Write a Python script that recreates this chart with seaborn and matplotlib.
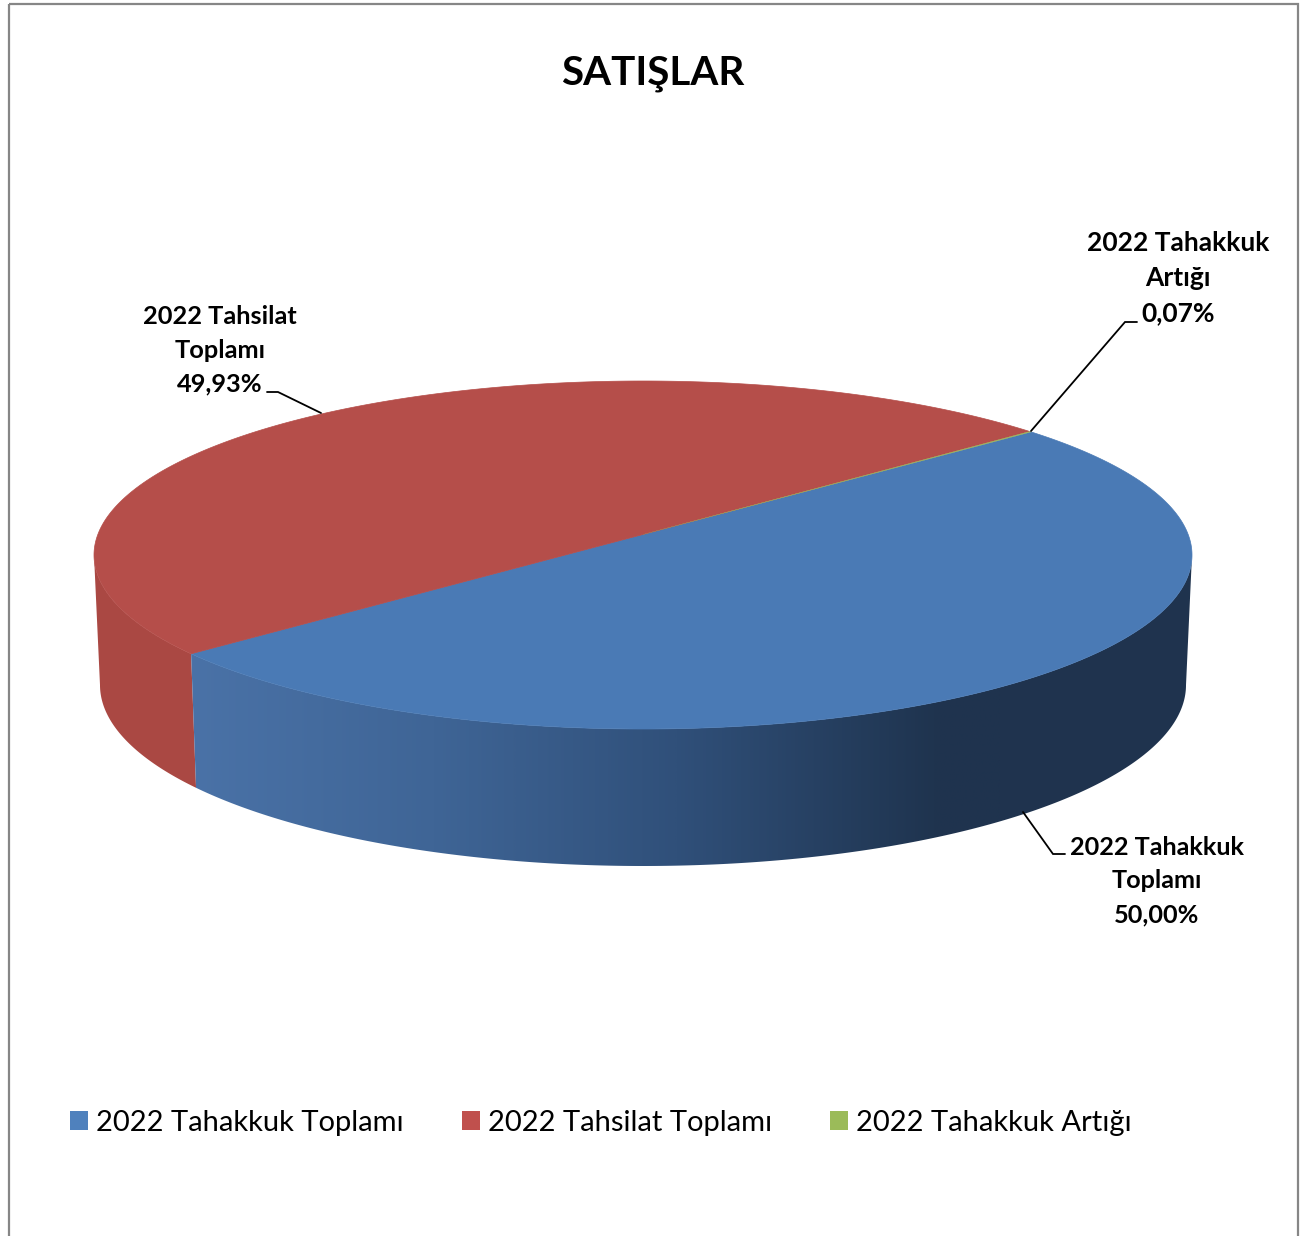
import numpy as np
import matplotlib
matplotlib.use("Agg")
import matplotlib.pyplot as plt
from matplotlib.patches import Polygon, Patch, Rectangle
from matplotlib.colors import LinearSegmentedColormap
import seaborn as sns

title = "SATIŞLAR"
categories = ["2022 Tahakkuk Toplamı", "2022 Tahsilat Toplamı", "2022 Tahakkuk Artığı"]
label_lines = ["2022 Tahakkuk\nToplamı", "2022 Tahsilat\nToplamı", "2022 Tahakkuk\nArtığı"]
shares = [50.00, 49.93, 0.07]
top_colors = ["#4A7AB5", "#B54E4A", "#9BBB59"]
legend_colors = ["#4F81BD", "#C0504D", "#9BBB59"]

sns.set_theme(style="white")
plt.rcParams["font.family"] = ["Lato", "DejaVu Sans"]

fig = plt.figure(figsize=(13.11, 12.36), dpi=100, facecolor="white")
ax = fig.add_axes([0, 0, 1, 1])
ax.set_xlim(0, 1311)
ax.set_ylim(1236, 0)
ax.axis("off")

# chart frame
ax.add_patch(Rectangle((8.5, 3.5), 1289.5, 1300, fill=False, ec="#868686", lw=1.6, clip_on=True))

# projected disc geometry
START = 40.0
K = 0.118
TOP = dict(cx=643, cy=555, rx=549, ry=174)
BOT = dict(cx=643, cy=685, rx=543, ry=181)


def project(theta_deg, g):
    th = np.radians(theta_deg)
    x, y = np.cos(th), np.sin(th)
    d = 1 + K * y
    u = x * np.sqrt(1 - K ** 2) / d
    v = (y + K) / d
    return g["cx"] + g["rx"] * u, g["cy"] - g["ry"] * v


edges = START - np.cumsum([0] + shares) / sum(shares) * 360
tangent = np.degrees(np.arcsin(K))


def wall(a, b):
    th = np.linspace(a, b, 300)
    xt, yt = project(th, TOP)
    xb, yb = project(th[::-1], BOT)
    return np.column_stack([np.r_[xt, xb], np.r_[yt, yb]])


# walls: red (left of the seam) and blue (front, gradient)
seam = edges[1] + 360
red_wall = Polygon(wall(180 + tangent, seam), fc="#AA4843", ec="none")
ax.add_patch(red_wall)

blue_wall = Polygon(wall(seam, 360 - tangent), fc="none", ec="none")
ax.add_patch(blue_wall)
cmap = LinearSegmentedColormap.from_list(
    "w", [(0, "#4A72A7"), (0.3, "#3F6596"), (0.6, "#30507A"), (0.92, "#1F344F"), (1, "#1F334E")])
grad = ax.imshow(np.linspace(0, 1, 512)[None, :], cmap=cmap, extent=(191, 1000, 900, 600), aspect="auto",
                 interpolation="bilinear", zorder=1)
grad.set_clip_path(blue_wall)
dark = ax.imshow(np.ones((1, 2)), cmap=cmap, vmin=0, vmax=1, extent=(1000, 1200, 900, 500), aspect="auto", zorder=1)
dark.set_clip_path(blue_wall)
ax.set_xlim(0, 1311)
ax.set_ylim(1236, 0)

# top face wedges, drawn from the shares
apex = (TOP["cx"], TOP["cy"] - TOP["ry"] * K)
for i in range(3):
    th = np.linspace(edges[i], edges[i + 1], 400)
    xs, ys = project(th, TOP)
    pts = np.column_stack([np.r_[apex[0], xs], np.r_[apex[1], ys]])
    ax.add_patch(Polygon(pts, fc=top_colors[i], ec=top_colors[i], lw=0.5 if i < 2 else 0.15, zorder=3 + (i == 2)))

ax.text(653, 73, title, ha="center", va="center", fontsize=29, fontweight="bold", color="black")


def pct(v):
    return f"{v:.2f}".replace(".", ",") + "%"


label_pos = [(1157, 881), (220, 350.5), (1178, 278)]
label_sizes = [18.2, 18.3, 19]
leaders = [
    ([1023, 1053, 1065], [812, 854, 854]),
    ([321, 278, 267], [413, 392, 392]),
    ([1031, 1125, 1137], [431, 322, 322]),
]
for i in range(3):
    ax.text(*label_pos[i], label_lines[i] + "\n" + pct(shares[i]), ha="center", va="center",
            fontsize=label_sizes[i], fontweight="bold", color="black", linespacing=1.56, zorder=6)
    ax.plot(*leaders[i], color="black", lw=1.3, zorder=5, solid_joinstyle="miter")

handles = [Patch(fc=c, ec="none") for c in legend_colors]
ax.legend(handles, categories, ncol=3, frameon=False, loc="center left",
          bbox_to_anchor=(70, 1123), bbox_transform=ax.transData, borderpad=0, borderaxespad=0,
          fontsize=21, handlelength=0.62, handleheight=0.62, handletextpad=0.27, columnspacing=1.99,
          labelcolor="black")

fig.savefig("out.png", dpi=100, facecolor="white")
